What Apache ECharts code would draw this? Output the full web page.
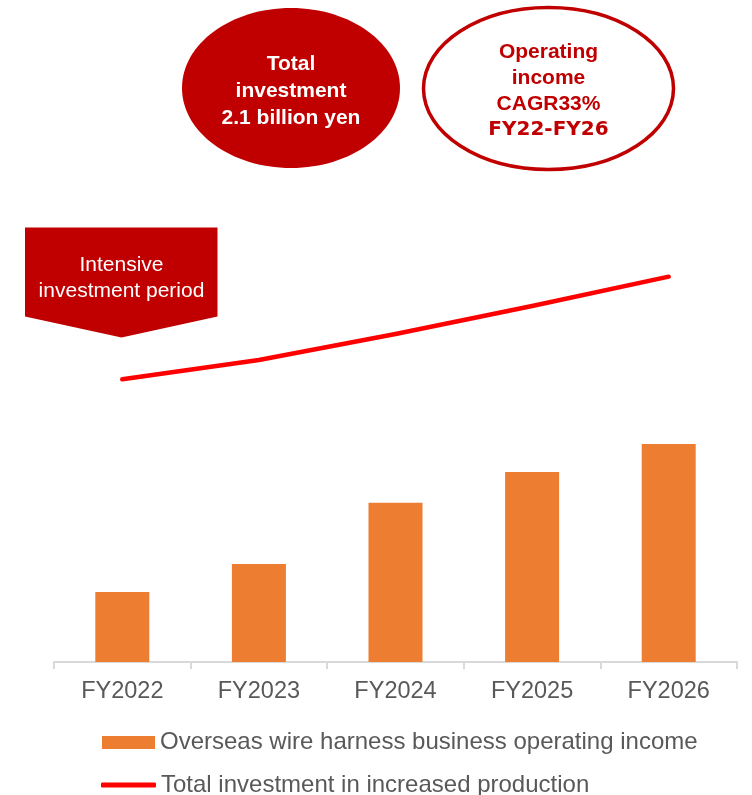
<!DOCTYPE html>
<html>
<head>
<meta charset="utf-8">
<script src="https://cdn.jsdelivr.net/npm/echarts@6/dist/echarts.min.js"></script>
<style>
  html, body { margin: 0; padding: 0; background: #fff; }
  #chart { width: 752px; height: 795px; }
</style>
</head>
<body>
<div id="chart"></div>
<script>
// Fiscal years on the category axis
const years = ['FY2022', 'FY2023', 'FY2024', 'FY2025', 'FY2026'];
// Overseas wire harness business operating income (index units)
const operatingIncome = [1.05, 1.47, 2.39, 2.85, 3.27];
// Total investment in increased production (same hidden scale)
const totalInvestment = [4.24, 4.53, 4.92, 5.34, 5.78];

const incomeName = 'Overseas wire harness business operating income';
const investName = 'Total investment in increased production';

const DARK_RED = '#C00000';
const FONT = 'Liberation Sans, Arial, sans-serif';

const chart = echarts.init(document.getElementById('chart'), null, { renderer: 'canvas' });

const legendText = { color: '#595959', fontSize: 24, fontFamily: FONT };

chart.setOption({
  animation: false,
  backgroundColor: '#ffffff',
  grid: { left: 54, right: 15, top: 262, bottom: 133, containLabel: false },
  xAxis: {
    type: 'category',
    data: years,
    boundaryGap: true,
    axisLine: { show: true, lineStyle: { color: '#d9d9d9', width: 2 } },
    axisTick: { show: true, length: 7, lineStyle: { color: '#d9d9d9', width: 2 } },
    axisLabel: { color: '#595959', fontSize: 23.5, fontFamily: FONT, margin: 18 }
  },
  yAxis: {
    type: 'value',
    min: 0,
    max: 6,
    show: false,
    splitLine: { show: false }
  },
  legend: [
    {
      orient: 'vertical',
      left: 102,
      top: 730.5,
      padding: 0,
      itemWidth: 53,
      itemHeight: 13,
      textStyle: legendText,
      data: [{ name: incomeName, icon: 'rect' }]
    },
    {
      orient: 'vertical',
      left: 101,
      top: 773,
      padding: 0,
      itemWidth: 55,
      itemHeight: 5,
      textStyle: legendText,
      data: [{ name: investName, icon: 'roundRect' }]
    }
  ],
  series: [
    {
      name: incomeName,
      type: 'bar',
      data: operatingIncome,
      barWidth: 54,
      itemStyle: { color: '#ED7D31' }
    },
    {
      name: investName,
      type: 'line',
      data: totalInvestment,
      symbol: 'none',
      lineStyle: { color: '#FF0000', width: 4.5, cap: 'round', join: 'round' },
      itemStyle: { color: '#FF0000' }
    }
  ],
  graphic: [
    // filled callout
    {
      type: 'ellipse',
      shape: { cx: 291, cy: 88, rx: 109, ry: 80 },
      style: { fill: DARK_RED }
    },
    {
      type: 'text',
      x: 291, y: 91.5,
      style: {
        text: 'Total\ninvestment\n2.1 billion yen',
        fill: '#ffffff',
        font: 'bold 21px ' + FONT,
        lineHeight: 27,
        align: 'center',
        verticalAlign: 'middle'
      }
    },
    // outlined callout
    {
      type: 'ellipse',
      shape: { cx: 548.5, cy: 88.5, rx: 125, ry: 81 },
      style: { fill: '#ffffff', stroke: DARK_RED, lineWidth: 3.5 }
    },
    {
      type: 'text',
      x: 548.5, y: 91,
      style: {
        text: '{a|Operating}\n{a|income}\n{a|CAGR33%}\n{b|FY22-FY26}',
        align: 'center',
        verticalAlign: 'middle',
        rich: {
          a: { fill: DARK_RED, font: 'bold 21px ' + FONT, lineHeight: 26, align: 'center' },
          b: { fill: DARK_RED, font: 'bold 20px DejaVu Sans, sans-serif', lineHeight: 26, align: 'center' }
        }
      }
    },
    // downward pentagon banner
    {
      type: 'polygon',
      shape: { points: [[25, 227.5], [217.5, 227.5], [217.5, 316.5], [121.5, 337.5], [25, 316.5]] },
      style: { fill: DARK_RED }
    },
    {
      type: 'text',
      x: 121.5, y: 278.5,
      style: {
        text: 'Intensive\ninvestment period',
        fill: '#ffffff',
        font: '21px ' + FONT,
        lineHeight: 26,
        align: 'center',
        verticalAlign: 'middle'
      }
    }
  ]
});
</script>
</body>
</html>
